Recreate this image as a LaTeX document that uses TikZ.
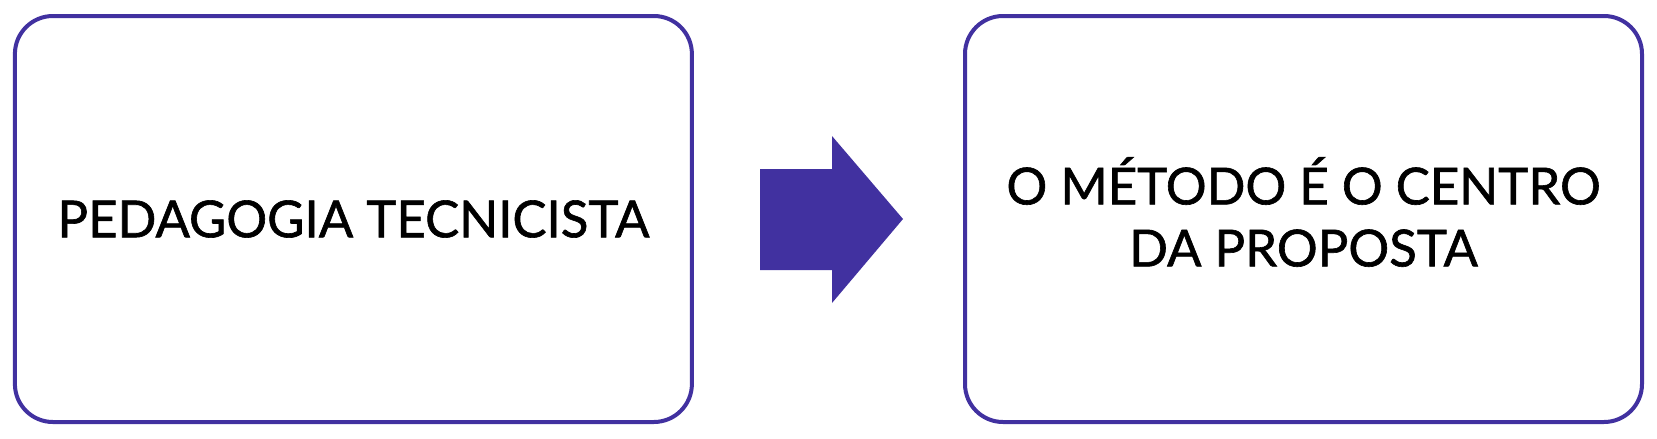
\documentclass[tikz,border=0pt]{standalone}
\usepackage{fontspec}
\setmainfont{Lato}
\newfontfamily\medio{Lato}[FakeBold=1.2]
\usetikzlibrary{positioning}
\definecolor{roxo}{RGB}{65,49,160}

\begin{document}
\begin{tikzpicture}
[
	x=1pt,y=-1pt,
	caixa/.style={draw=roxo,line width=4pt,rounded corners=38pt,minimum width=677pt,minimum height=406pt,inner sep=0pt},
	texto/.style={font=\medio\fontsize{51}{62}\selectfont,align=center,text=black,inner sep=0pt}
]

	\useasboundingbox (0,0) rectangle (1657,439);

	% caixas
	\node[caixa] (esq) at (353.4,219) {};
	\node[caixa] (dir) at (1303.5,219) {};

	% textos
	\node[texto] (tesq) at (esq.center) {PEDAGOGIA TECNICISTA};
	\node[texto] (tdir) at ([yshift=7pt]dir.center) {O MÉTODO É O CENTRO\\DA PROPOSTA};

	% seta
	\fill[roxo] (760,169) -- (832,169) -- (832,136) -- (903,219)
		-- (832,303) -- (832,270) -- (760,270) -- cycle;

\end{tikzpicture}
\end{document}
